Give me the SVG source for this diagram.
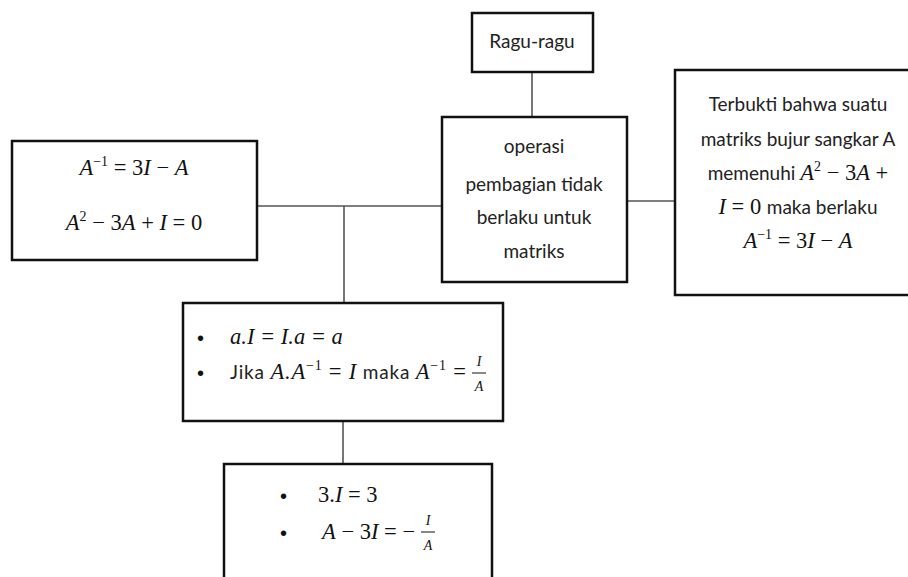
<svg xmlns="http://www.w3.org/2000/svg" width="908" height="577" viewBox="0 0 908 577">
<style>
.box{fill:#fff;stroke:#111;stroke-width:2.5}
.con{stroke:#555;stroke-width:1.6;fill:none}
.t{font-family:Lato,"Open Sans","Liberation Sans",sans-serif;font-size:19px;fill:#222}
.m{font-family:"Liberation Serif","DejaVu Serif",serif;font-size:22.5px;fill:#111}
.i{font-style:italic}
.sup{font-size:14px}
.fr{font-family:"Liberation Serif",serif;font-style:italic;font-size:14px;fill:#111;text-anchor:middle}
.b{font-family:"Liberation Sans",sans-serif;font-size:20px;fill:#111}
</style>
<rect width="908" height="577" fill="#fff"/>
<g id="connectors">
<line class="con" x1="258" y1="206" x2="443" y2="206"/>
<line class="con" x1="344" y1="206" x2="344" y2="303"/>
<line class="con" x1="532" y1="72" x2="532" y2="117"/>
<line class="con" x1="627" y1="201" x2="676" y2="201"/>
<line class="con" x1="343" y1="421" x2="343" y2="464"/>
</g>
<g id="node-left">
<rect class="box" x="12" y="141" width="245" height="119"/>
<text class="m" x="134" y="175" text-anchor="middle"><tspan class="i">A</tspan><tspan class="sup" dy="-9">−1</tspan><tspan dy="9"> = 3</tspan><tspan class="i">I</tspan> − <tspan class="i">A</tspan></text>
<text class="m" x="134" y="230" text-anchor="middle"><tspan class="i">A</tspan><tspan class="sup" dy="-9">2</tspan><tspan dy="9"> − 3</tspan><tspan class="i">A</tspan> + <tspan class="i">I</tspan> = 0</text>
</g>
<g id="node-ragu">
<rect class="box" x="472" y="13" width="121" height="59"/>
<text class="t" x="532" y="48" text-anchor="middle">Ragu-ragu</text>
</g>
<g id="node-center">
<rect class="box" x="442" y="117" width="185" height="165"/>
<text class="t" x="534" y="153" text-anchor="middle">operasi</text>
<text class="t" x="534" y="191" text-anchor="middle">pembagian tidak</text>
<text class="t" x="534" y="224" text-anchor="middle">berlaku untuk</text>
<text class="t" x="534" y="258" text-anchor="middle">matriks</text>
</g>
<g id="node-right">
<rect class="box" x="675" y="70" width="240" height="225"/>
<text class="t" x="798" y="111" text-anchor="middle">Terbukti bahwa suatu</text>
<text class="t" x="798" y="146" text-anchor="middle">matriks bujur sangkar A</text>
<text class="t" x="798" y="180" text-anchor="middle">memenuhi  <tspan class="m i">A</tspan><tspan class="m sup" dy="-9">2</tspan><tspan class="m" dy="9"> − 3</tspan><tspan class="m i">A</tspan><tspan class="m"> +</tspan></text>
<text class="t" x="798" y="214" text-anchor="middle"><tspan class="m i">I</tspan><tspan class="m"> = 0 </tspan>maka berlaku</text>
<text class="m" x="798" y="248" text-anchor="middle"><tspan class="i">A</tspan><tspan class="sup" dy="-9">−1</tspan><tspan dy="9"> = 3</tspan><tspan class="i">I</tspan> − <tspan class="i">A</tspan></text>
</g>
<g id="node-mid">
<rect class="box" x="183" y="303" width="320" height="118"/>
<text class="b" x="197" y="345">•</text>
<text class="m i" x="230" y="344">a.I = I.a = a</text>
<text class="b" x="197" y="380">•</text>
<text class="t" x="230" y="379" textLength="236" lengthAdjust="spacing">Jika <tspan class="m i">A.A</tspan><tspan class="m sup" dy="-9">−1</tspan><tspan class="m" dy="9"> = </tspan><tspan class="m i">I</tspan> maka <tspan class="m i">A</tspan><tspan class="m sup" dy="-9">−1</tspan><tspan class="m" dy="9"> =</tspan></text>
<text class="fr" x="479" y="366">I</text>
<line x1="472" y1="373" x2="486" y2="373" stroke="#111" stroke-width="1"/>
<text class="fr" x="479" y="391">A</text>
</g>
<g id="node-bottom">
<rect class="box" x="224" y="464" width="268" height="125"/>
<text class="b" x="280" y="503">•</text>
<text class="m" x="318" y="502">3.<tspan class="i">I</tspan> = 3</text>
<text class="b" x="280" y="540">•</text>
<text class="m" x="322" y="539"><tspan class="i">A</tspan> − 3<tspan class="i">I</tspan> = −</text>
<text class="fr" x="428" y="525">I</text>
<line x1="421" y1="532" x2="435" y2="532" stroke="#111" stroke-width="1"/>
<text class="fr" x="428" y="550">A</text>
</g>
</svg>
